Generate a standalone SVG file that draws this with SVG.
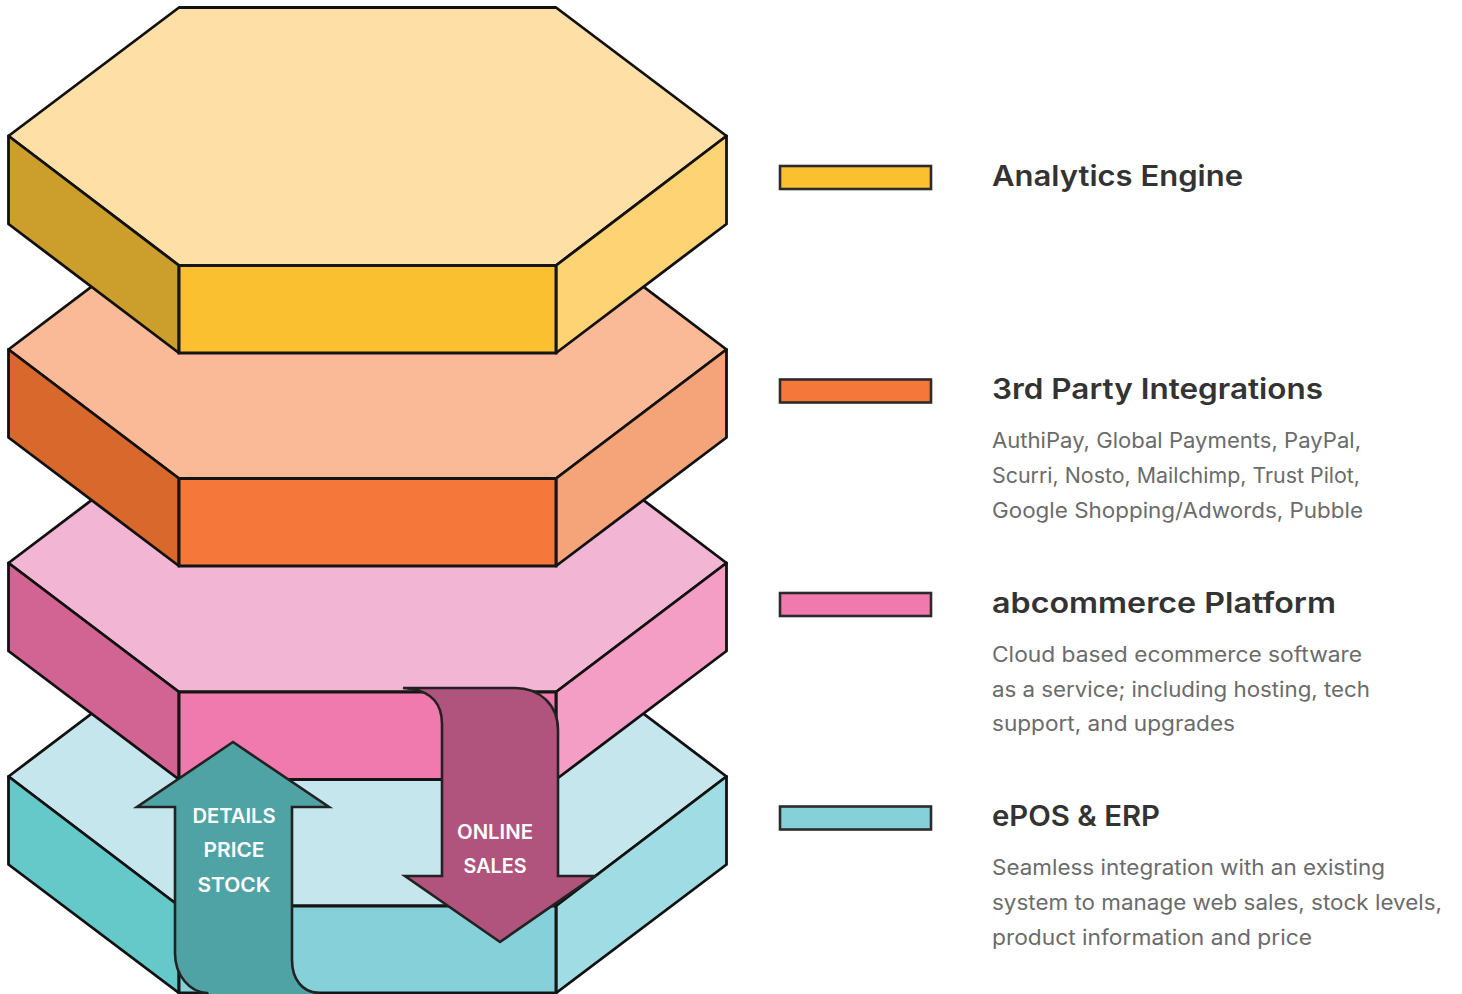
<svg xmlns="http://www.w3.org/2000/svg" width="1462" height="994" viewBox="0 0 1462 994">
<style>
.e{stroke:#111;stroke-width:2.8;stroke-linejoin:round}
.f{stroke:#151515;stroke-width:3;stroke-linejoin:miter}
.a{stroke:#222;stroke-width:2.6;stroke-linejoin:miter}
.k{stroke:#2b2b2b;stroke-width:2.6}
text{font-family:Inter,"Open Sans","Liberation Sans",sans-serif}
.h{font-size:28px;font-weight:600;fill:#333}
.b{font-size:21px;font-weight:400;fill:#6b6b6b}
.w{font-size:20px;font-weight:600;fill:#fff;text-anchor:middle}
</style>
<rect width="1462" height="994" fill="#fff"/>
<g id="layer-epos">
<polygon class="e" fill="#c4e6ec" points="179,647.500 556,647.500 726.500,776.500 556,906 179,906 8.500,776.500"/>
<polygon class="e" fill="#65c8c9" points="8.500,776.500 179,906 179,993 8.500,864.500"/>
<polygon class="e" fill="#a0dce3" points="726.500,776.500 556,906 556,993 726.500,864.500"/>
<rect class="f" fill="#86d0d9" x="179" y="906" width="377" height="87"/>
</g>
<g id="layer-platform">
<polygon class="e" fill="#f3b5d4" points="179,434 556,434 726.500,563 556,692 179,692 8.500,563"/>
<polygon class="e" fill="#d26494" points="8.500,563 179,692 179,779.500 8.500,651"/>
<polygon class="e" fill="#f49dc5" points="726.500,563 556,692 556,779.500 726.500,651"/>
<rect class="f" fill="#f07aae" x="179" y="692" width="377" height="87.500"/>
</g>
<g id="layer-integrations">
<polygon class="e" fill="#fab997" points="179,220.500 556,220.500 726.500,349.500 556,478.500 179,478.500 8.500,349.500"/>
<polygon class="e" fill="#d8682c" points="8.500,349.500 179,478.500 179,566 8.500,437.500"/>
<polygon class="e" fill="#f5a47a" points="726.500,349.500 556,478.500 556,566 726.500,437.500"/>
<rect class="f" fill="#f5783a" x="179" y="478.500" width="377" height="87.500"/>
</g>
<g id="layer-analytics">
<polygon class="e" fill="#fee0a6" points="179,7.500 556,7.500 726.500,136 556,265.500 179,265.500 8.500,136"/>
<polygon class="e" fill="#cc9e2c" points="8.500,136 179,265.500 179,353 8.500,224"/>
<polygon class="e" fill="#fed373" points="726.500,136 556,265.500 556,353 726.500,224"/>
<rect class="f" fill="#fbc030" x="179" y="265.500" width="377" height="87.500"/>
</g>
<g id="connectors">
<g id="arrow-details">
<path class="a" fill="#50a3a4" d="M233,742 L329,807 H292 V960 C292,980 303,992 318,993 L322,998 H210 L207,993 C190,992 175,976 175,953 V807 H137 Z"/>
<text class="w" x="234" y="823" textLength="83" lengthAdjust="spacingAndGlyphs">DETAILS</text>
<text class="w" x="234" y="857" textLength="61" lengthAdjust="spacingAndGlyphs">PRICE</text>
<text class="w" x="234" y="892" textLength="73" lengthAdjust="spacingAndGlyphs">STOCK</text>
</g>
<g id="arrow-online">
<path class="a" fill="#b0537d" d="M403,688 H515 C540,688 558,705 558,730 V876 H595 L500,942 L405,876 H442 V724 C442,703 430,692 412,689 Z"/>
<text class="w" x="495" y="839" textLength="76" lengthAdjust="spacingAndGlyphs">ONLINE</text>
<text class="w" x="495" y="873" textLength="63" lengthAdjust="spacingAndGlyphs">SALES</text>
</g>
</g>
<g id="legend-analytics">
<rect class="k" fill="#fbc030" x="780" y="166" width="151" height="23"/>
<text class="h" x="992" y="186" textLength="251" lengthAdjust="spacingAndGlyphs">Analytics Engine</text>
</g>
<g id="legend-integrations">
<rect class="k" fill="#f5783a" x="780" y="379.500" width="151" height="23"/>
<text class="h" x="992" y="399" textLength="331" lengthAdjust="spacingAndGlyphs">3rd Party Integrations</text>
<text class="b" x="992" y="448" textLength="369" lengthAdjust="spacingAndGlyphs">AuthiPay, Global Payments, PayPal,</text>
<text class="b" x="992" y="483" textLength="368" lengthAdjust="spacingAndGlyphs">Scurri, Nosto, Mailchimp, Trust Pilot,</text>
<text class="b" x="992" y="518" textLength="371" lengthAdjust="spacingAndGlyphs">Google Shopping/Adwords, Pubble</text>
</g>
<g id="legend-platform">
<rect class="k" fill="#f07aae" x="780" y="593" width="151" height="23"/>
<text class="h" x="992" y="613" textLength="344" lengthAdjust="spacingAndGlyphs">abcommerce Platform</text>
<text class="b" x="992" y="662" textLength="370" lengthAdjust="spacingAndGlyphs">Cloud based ecommerce software</text>
<text class="b" x="992" y="697" textLength="378" lengthAdjust="spacingAndGlyphs">as a service; including hosting, tech</text>
<text class="b" x="992" y="731" textLength="243" lengthAdjust="spacingAndGlyphs">support, and upgrades</text>
</g>
<g id="legend-epos">
<rect class="k" fill="#86d0d9" x="780" y="806.500" width="151" height="23"/>
<text class="h" x="992" y="826" textLength="168" lengthAdjust="spacingAndGlyphs">ePOS &amp; ERP</text>
<text class="b" x="992" y="875" textLength="393" lengthAdjust="spacingAndGlyphs">Seamless integration with an existing</text>
<text class="b" x="992" y="910" textLength="450" lengthAdjust="spacingAndGlyphs">system to manage web sales, stock levels,</text>
<text class="b" x="992" y="945" textLength="320" lengthAdjust="spacingAndGlyphs">product information and price</text>
</g>
</svg>
